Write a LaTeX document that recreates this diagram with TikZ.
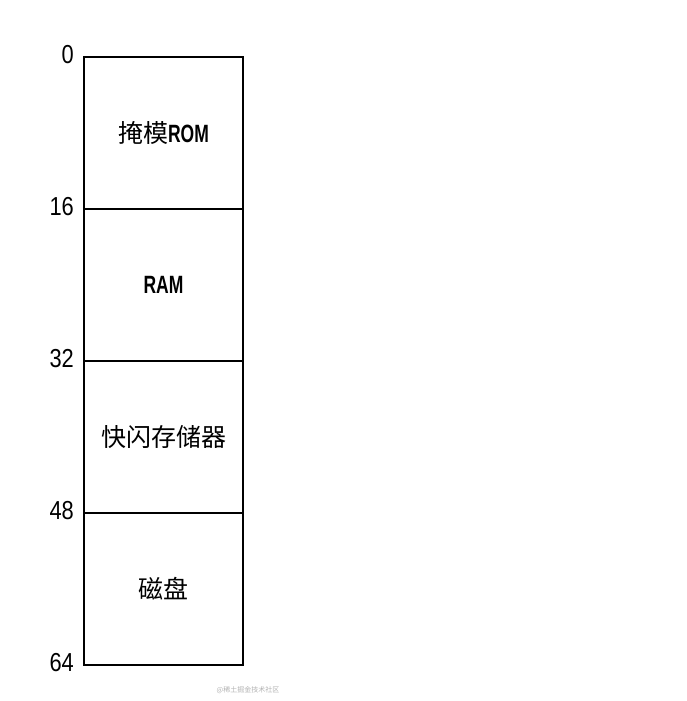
\documentclass[tikz,border=0pt]{standalone}
\usepackage{fontspec}
\setmainfont{Liberation Sans}
\newfontfamily\cjk{Noto Sans CJK SC}
\newfontfamily\narrow[FakeStretch=0.7]{Liberation Sans Bold}
\newfontfamily\numfont[FakeStretch=0.84]{Liberation Sans}
\usepackage{tikz}
\usetikzlibrary{positioning}
\tikzset{
  seg/.style     = {draw=black, line width=1.8pt, minimum width=159pt, minimum height=152pt, inner sep=0pt, outer sep=0pt, font=\fontsize{25pt}{27pt}\selectfont},
  addr/.style    = {font=\numfont\fontsize{26pt}{28pt}\selectfont, anchor=east, inner sep=0pt},
  wmark/.style   = {font=\cjk\fontsize{7pt}{8pt}\selectfont, text=black!30, inner sep=0pt},
}
\begin{document}
\begin{tikzpicture}[x=1pt,y=-1pt]
  \useasboundingbox (0,0) rectangle (686,701);
  % memory segments
  \node[seg, anchor=north west] (rom) at (84,57) {{\cjk 掩模}{\narrow\fontsize{25pt}{27pt}\selectfont ROM}};
  \node[seg, below=0pt of rom] (ram) {\narrow\fontsize{25pt}{27pt}\selectfont RAM};
  \node[seg, below=0pt of ram] (flash) {\cjk 快闪存储器};
  \node[seg, below=0pt of flash] (disk) {\cjk 磁盘};

  % addresses
  \node[addr] (a0) at ([xshift=-10pt,yshift=2pt]rom.north west) {0};
  \node[addr] (a16) at ([xshift=-10pt,yshift=2pt]ram.north west) {16};
  \node[addr] (a32) at ([xshift=-10pt,yshift=2pt]flash.north west) {32};
  \node[addr] (a48) at ([xshift=-10pt,yshift=2pt]disk.north west) {48};
  \node[addr] (a64) at ([xshift=-10pt,yshift=2pt]disk.south west) {64};

  \node[wmark] (wm) at (248,690) {@稀土掘金技术社区};
\end{tikzpicture}
\end{document}
